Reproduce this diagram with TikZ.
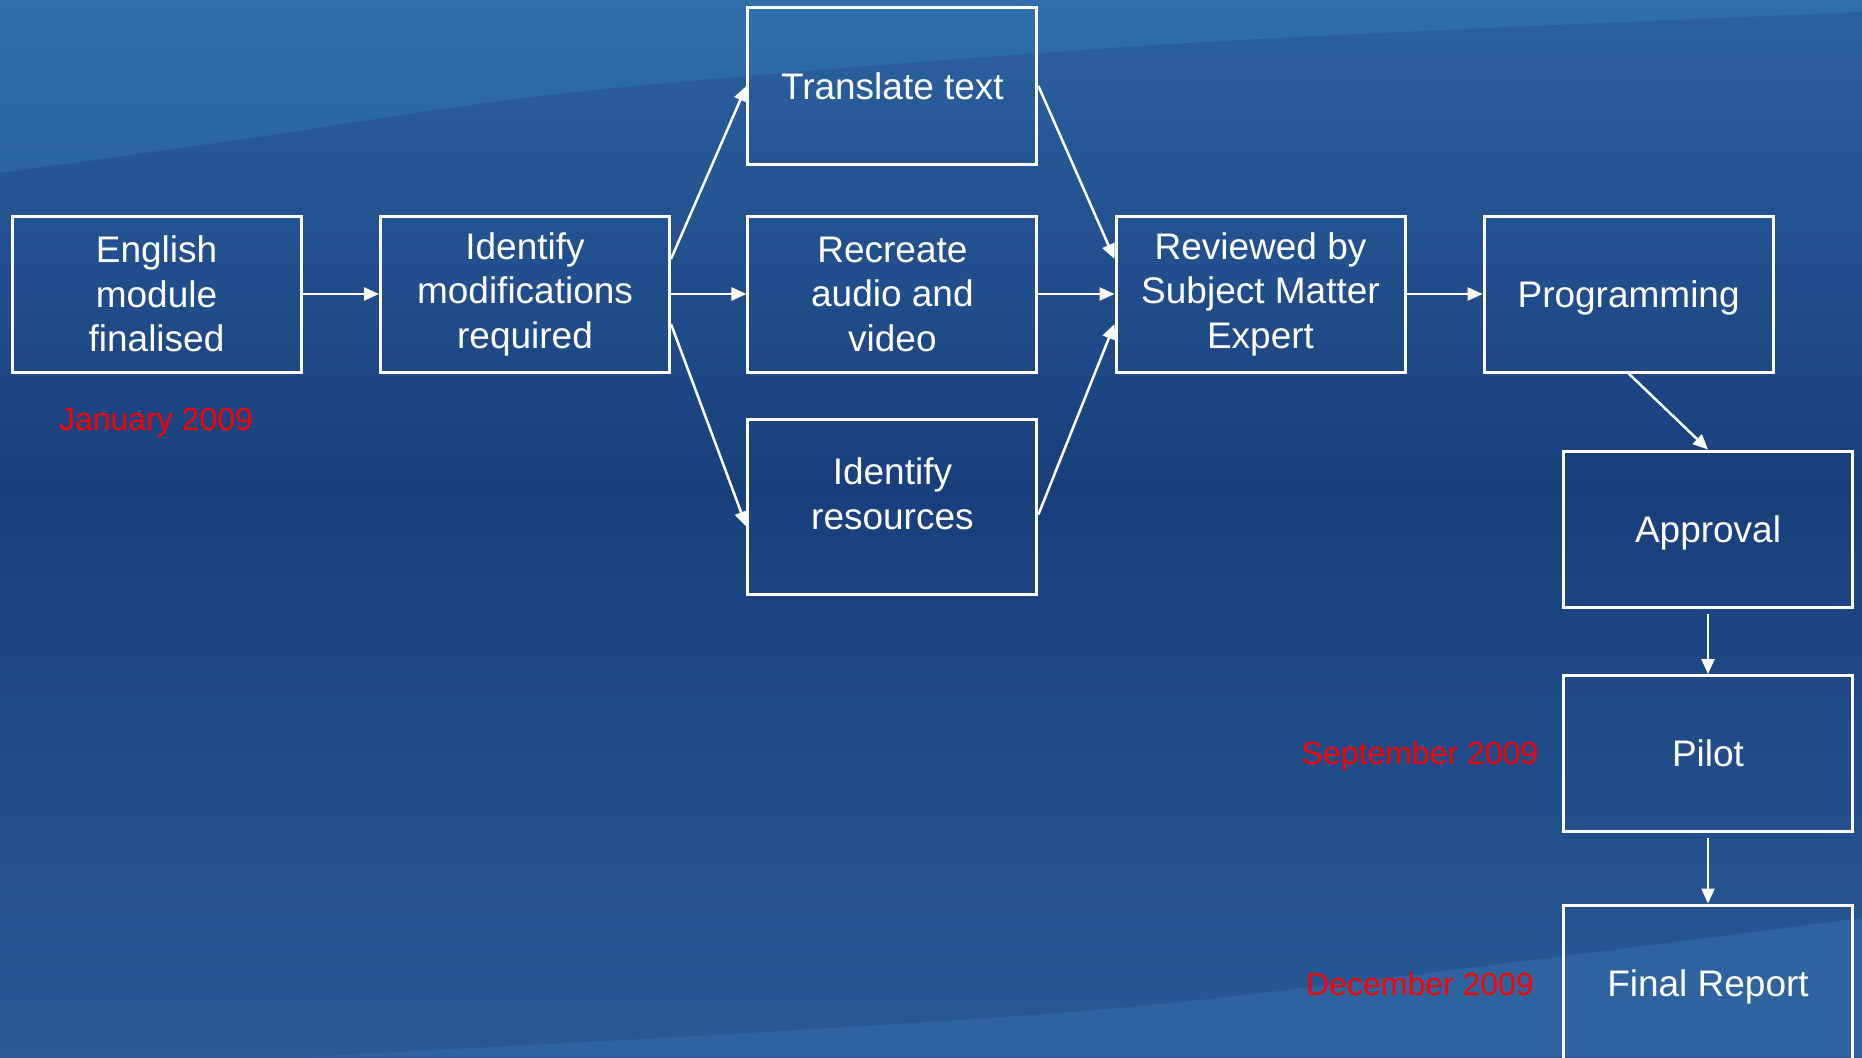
\documentclass[tikz,border=0pt]{standalone}
\usepackage{fontspec}
\setmainfont{Liberation Sans}
\usetikzlibrary{arrows.meta}
\definecolor{g0}{RGB}{44,98,160}
\definecolor{g1}{RGB}{34,80,142}
\definecolor{g2}{RGB}{24,63,124}
\definecolor{g4}{RGB}{33,79,140}
\definecolor{g5}{RGB}{40,90,150}
\definecolor{swtop}{RGB}{48,110,172}
\definecolor{swmid}{RGB}{44,100,162}
\definecolor{swbot}{RGB}{45,100,160}
\definecolor{datered}{RGB}{255,0,0}
\pgfdeclareverticalshading{bgshade}{100bp}{color(0bp)=(g5); color(25bp)=(g5); color(37bp)=(g4); color(52bp)=(g2); color(63bp)=(g1); color(75bp)=(g0); color(100bp)=(g0)}
\begin{document}
\begin{tikzpicture}[x=1pt,y=-1pt,
  box/.style={draw=white, line width=3pt, minimum width=289pt, minimum height=156pt, inner sep=0pt, text=white, align=center, font=\fontsize{37}{44.5}\selectfont},
  lbl/.style={text=white, align=center, font=\fontsize{37}{44.5}\selectfont, inner sep=0pt},
  datelbl/.style={text=datered, font=\fontsize{32}{38}\selectfont, inner sep=0pt},
  conn/.style={draw=white, line width=2.5pt, -{Triangle[length=15pt,width=13pt]}}]
\useasboundingbox (0,0) rectangle (1862,1057);
% background
\shade[shading=bgshade] (0,0) rectangle (1862,1057);
\shade[top color=swtop, bottom color=swmid] (0,0) -- plot[smooth] coordinates {(0,173) (237,140) (594,90) (1188,43) (1862,12)} -- (1862,0) -- cycle;
\fill[swbot] plot[smooth] coordinates {(300,1057) (800,1030) (1200,1000) (1862,918)} -- (1862,1057) -- cycle;
% boxes
\node[box] (eng) at (156.5,294) {English\\module\\finalised};
\node[box] (idm) at (525,294) {Identify\\modifications\\required};
\node[box] (tr) at (892.4,86) {Translate text};
\node[box] (rec) at (892.4,294) {Recreate\\audio and\\video};
\node[box, minimum height=175pt] (res) at (892.4,506.5) {};
\node[lbl] (restext) at (892.4,494) {Identify\\resources};
\node[box] (rev) at (1260.5,294) {Reviewed by\\Subject Matter\\Expert};
\node[box, text depth=0pt] (prog) at (1628.6,294) {Programming};
\node[box, text depth=0pt] (appr) at (1708,529) {Approval};
\node[box] (pilot) at (1708,753.5) {Pilot};
\node[box, text depth=0pt] (fin) at (1708,983) {Final Report};
% dates
\node[datelbl] (jan) at (156,423) {January 2009};
\node[datelbl] (sep) at (1420,756.5) {September 2009};
\node[datelbl] (dec) at (1420,984) {December 2009};
% connectors
\draw[conn] (eng) -- (idm);
\draw[conn] ([yshift=35pt]idm.east) -- (tr.west);
\draw[conn] (idm) -- (rec);
\draw[conn] ([yshift=-30pt]idm.east) -- ([yshift=-20pt]res.west);
\draw[conn] (tr.east) -- ([yshift=35pt]rev.west);
\draw[conn] (rec) -- (rev);
\draw[conn] ([yshift=-8pt]res.east) -- ([yshift=-30pt]rev.west);
\draw[conn] (rev) -- (prog);
\draw[conn] (prog.south) -- (appr.north);
\draw[conn, shorten <=5pt] (appr.south) -- (pilot.north);
\draw[conn, shorten <=5pt] (pilot.south) -- (fin.north);
\end{tikzpicture}
\end{document}
